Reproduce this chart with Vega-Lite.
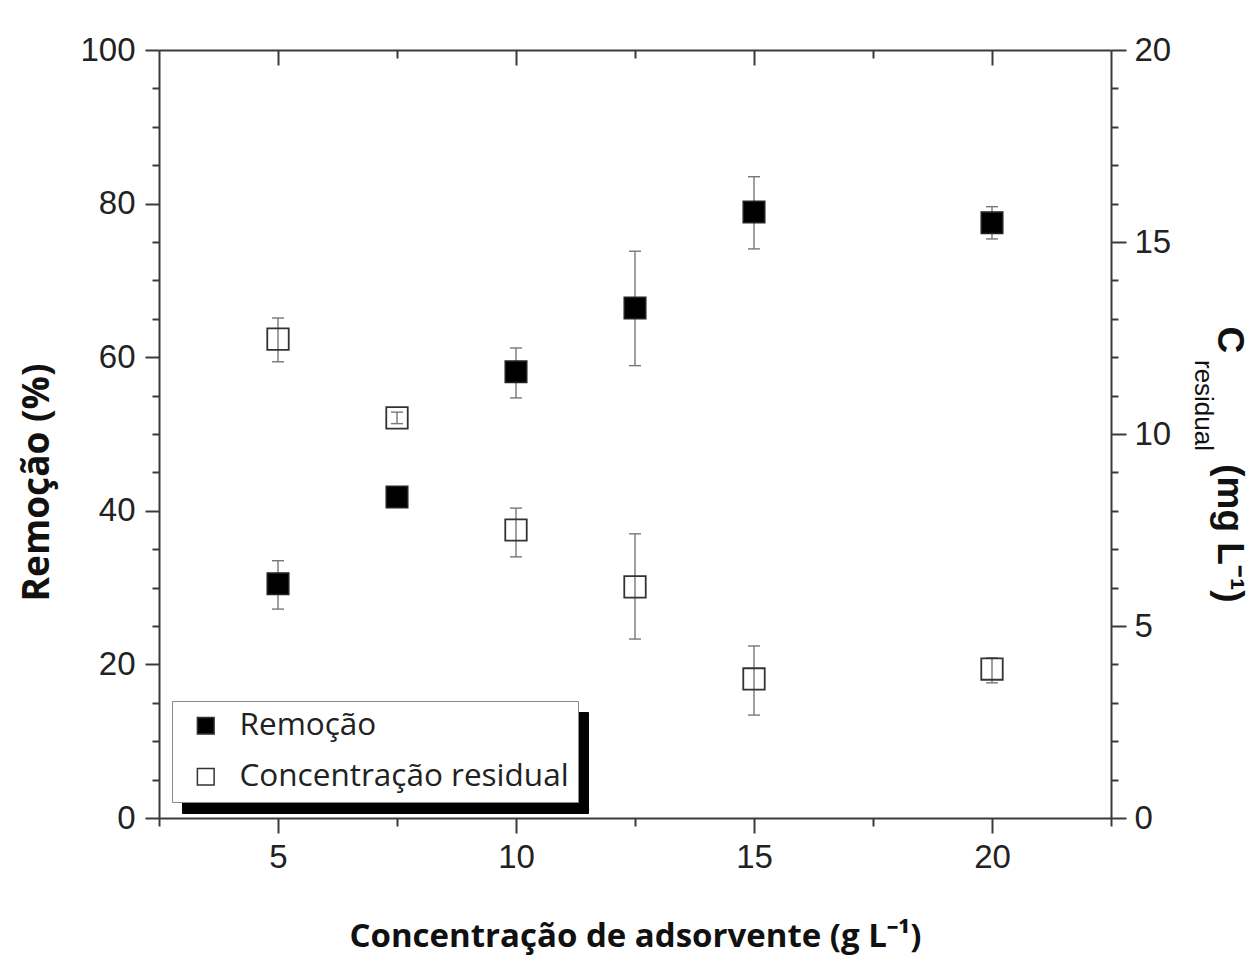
{
  "$schema": "https://vega.github.io/schema/vega-lite/v6.json",
  "width": 952,
  "height": 768,
  "autosize": {"type": "none"},
  "padding": {"left": 159, "top": 50, "right": 142, "bottom": 147},
  "background": "white",
  "config": {
    "view": {"stroke": null},
    "axis": {
      "domainColor": "#3a3a3a",
      "domainWidth": 2,
      "tickColor": "#3a3a3a",
      "tickWidth": 2,
      "labelFont": "Liberation Sans",
      "labelFontSize": 33,
      "labelColor": "#222",
      "labelOverlap": false,
      "grid": false,
      "titleColor": "#111"
    },
    "axisLeft": {
      "values": [0, 10, 20, 30, 40, 50, 60, 70, 80, 90, 100],
      "labelExpr": "datum.value % 20 === 0 ? datum.label : ''",
      "tickSize": {"condition": {"test": "datum.value % 20 === 0", "value": 14}, "value": 7},
      "labelPadding": 10,
      "titleFont": "Open Sans",
      "titleFontWeight": "bold",
      "titleFontSize": 37,
      "titleAngle": 270,
      "titleX": -122,
      "titleY": 432,
      "titleAlign": "center",
      "titleBaseline": "middle"
    },
    "axisRight": {
      "values": [0, 2.5, 5, 7.5, 10, 12.5, 15, 17.5, 20],
      "labelExpr": "datum.value % 5 === 0 ? datum.label : ''",
      "tickSize": {"condition": {"test": "datum.value % 5 === 0", "value": 15}, "value": 7},
      "labelPadding": 8,
      "titleFont": "Liberation Sans",
      "titleFontWeight": "bold",
      "titleFontSize": 37,
      "titleAngle": 90,
      "titleX": 117,
      "titleY": 414,
      "titleAlign": "center",
      "titleBaseline": "middle"
    }
  },
  "layer": [
    {
      "data": {
        "values": [
          {"x": 5, "v": 30.5, "lo": 27.2, "hi": 33.5, "serie": "Remoção"},
          {"x": 7.5, "v": 41.8, "lo": 41.1, "hi": 42.5, "serie": "Remoção"},
          {"x": 10, "v": 58.1, "lo": 54.7, "hi": 61.2, "serie": "Remoção"},
          {"x": 12.5, "v": 66.4, "lo": 58.9, "hi": 73.8, "serie": "Remoção"},
          {"x": 15, "v": 78.9, "lo": 74.1, "hi": 83.5, "serie": "Remoção"},
          {"x": 20, "v": 77.5, "lo": 75.4, "hi": 79.6, "serie": "Remoção"}
        ]
      },
      "encoding": {
        "x": {
          "field": "x",
          "type": "quantitative",
          "scale": {"domain": [2.5, 22.5], "nice": false, "zero": false},
          "axis": {
            "orient": "bottom",
            "values": [2.5, 5, 7.5, 10, 12.5, 15, 17.5, 20, 22.5],
            "labelExpr": "datum.value % 5 === 0 ? datum.label : ''",
            "tickSize": {"condition": {"test": "datum.value % 5 === 0", "value": 15}, "value": 8},
            "labelPadding": 8,
            "title": "Concentração de adsorvente (g L⁻¹)",
            "titleFont": "Open Sans",
            "titleFontWeight": "bold",
            "titleFontSize": 33,
            "titleX": 476,
            "titleY": 128,
            "titleAlign": "center",
            "titleBaseline": "alphabetic"
          }
        },
        "y": {
          "field": "v",
          "type": "quantitative",
          "scale": {"domain": [0, 100], "nice": false},
          "axis": {"orient": "left", "title": "Remoção (%)"}
        }
      },
      "layer": [
        {
          "mark": {"type": "rule", "color": "#777", "strokeWidth": 1.4},
          "encoding": {
            "y": {"field": "lo", "type": "quantitative", "scale": {"domain": [0, 100], "nice": false}, "axis": {"orient": "left", "title": "Remoção (%)"}},
            "y2": {"field": "hi"}
          }
        },
        {
          "mark": {"type": "tick", "orient": "horizontal", "color": "#777", "size": 12, "thickness": 1.4, "opacity": 1},
          "encoding": {
            "y": {"field": "lo", "type": "quantitative", "scale": {"domain": [0, 100], "nice": false}, "axis": {"orient": "left", "title": "Remoção (%)"}}
          }
        },
        {
          "mark": {"type": "tick", "orient": "horizontal", "color": "#777", "size": 12, "thickness": 1.4, "opacity": 1},
          "encoding": {
            "y": {"field": "hi", "type": "quantitative", "scale": {"domain": [0, 100], "nice": false}, "axis": {"orient": "left", "title": "Remoção (%)"}}
          }
        },
        {
          "mark": {"type": "point", "shape": "square", "filled": true, "size": 460, "stroke": "#222", "strokeWidth": 1.6, "opacity": 1},
          "encoding": {
            "fill": {
              "field": "serie",
              "type": "nominal",
              "scale": {"domain": ["Remoção", "Concentração residual"], "range": ["black", "transparent"]},
              "legend": {
                "title": null,
                "orient": "none",
                "legendX": 13,
                "legendY": 651,
                "fillColor": "white",
                "strokeColor": "#888",
                "padding": 9,
                "rowPadding": 18,
                "labelFont": "Open Sans",
                "labelFontSize": 31.5,
                "labelColor": "#222",
                "labelOffset": 18,
                "labelLimit": 800,
                "symbolOffset": 9,
                "symbolSize": 280,
                "symbolType": "square",
                "symbolStrokeColor": "#333",
                "symbolStrokeWidth": 1.5,
                "zindex": 2
              }
            },
            "shape": {
              "field": "serie",
              "type": "nominal",
              "scale": {"domain": ["Concentração residual", "Remoção"], "range": ["square", "square"]},
              "legend": {
                "title": null,
                "orient": "none",
                "legendX": 23,
                "legendY": 662,
                "fillColor": "black",
                "strokeColor": "black",
                "padding": 9,
                "rowPadding": 18,
                "labelFont": "Open Sans",
                "labelFontSize": 31.5,
                "labelColor": "black",
                "labelOffset": 18,
                "labelLimit": 800,
                "symbolOffset": 9,
                "symbolSize": 280,
                "symbolType": "square",
                "symbolFillColor": "black",
                "symbolStrokeColor": "black",
                "zindex": 1
              }
            }
          }
        }
      ]
    },
    {
      "data": {
        "values": [
          {"x": 5, "v": 12.47, "lo": 11.88, "hi": 13.02, "serie": "Concentração residual"},
          {"x": 7.5, "v": 10.42, "lo": 10.27, "hi": 10.57, "serie": "Concentração residual"},
          {"x": 10, "v": 7.5, "lo": 6.8, "hi": 8.07, "serie": "Concentração residual"},
          {"x": 12.5, "v": 6.02, "lo": 4.66, "hi": 7.4, "serie": "Concentração residual"},
          {"x": 15, "v": 3.62, "lo": 2.68, "hi": 4.48, "serie": "Concentração residual"},
          {"x": 20, "v": 3.88, "lo": 3.52, "hi": 4.17, "serie": "Concentração residual"}
        ]
      },
      "encoding": {
        "x": {
          "field": "x",
          "type": "quantitative",
          "scale": {"domain": [2.5, 22.5], "nice": false, "zero": false},
          "axis": {
            "orient": "top",
            "values": [5, 7.5, 10, 12.5, 15, 17.5, 20],
            "labels": false,
            "tickSize": {"condition": {"test": "datum.value % 5 === 0", "value": -15}, "value": -8},
            "title": "residual",
            "titleFont": "Liberation Sans",
            "titleFontWeight": "normal",
            "titleFontSize": 26,
            "titleAngle": 90,
            "titleX": 1043,
            "titleY": 355,
            "titleAlign": "center",
            "titleBaseline": "middle"
          }
        },
        "y": {
          "field": "v",
          "type": "quantitative",
          "scale": {"domain": [0, 20], "nice": false},
          "axis": {"orient": "right", "title": "C\u2003\u2003\u2003(mg L⁻¹)"}
        }
      },
      "layer": [
        {
          "mark": {"type": "rule", "color": "#777", "strokeWidth": 1.4},
          "encoding": {
            "y": {"field": "lo", "type": "quantitative", "scale": {"domain": [0, 20], "nice": false}, "axis": {"orient": "right", "title": "C\u2003\u2003\u2003(mg L⁻¹)"}},
            "y2": {"field": "hi"}
          }
        },
        {
          "mark": {"type": "tick", "orient": "horizontal", "color": "#777", "size": 12, "thickness": 1.4, "opacity": 1},
          "encoding": {
            "y": {"field": "lo", "type": "quantitative", "scale": {"domain": [0, 20], "nice": false}, "axis": {"orient": "right", "title": "C\u2003\u2003\u2003(mg L⁻¹)"}}
          }
        },
        {
          "mark": {"type": "tick", "orient": "horizontal", "color": "#777", "size": 12, "thickness": 1.4, "opacity": 1},
          "encoding": {
            "y": {"field": "hi", "type": "quantitative", "scale": {"domain": [0, 20], "nice": false}, "axis": {"orient": "right", "title": "C\u2003\u2003\u2003(mg L⁻¹)"}}
          }
        },
        {
          "mark": {"type": "point", "shape": "square", "filled": true, "size": 460, "stroke": "#333", "strokeWidth": 1.8, "opacity": 1},
          "encoding": {
            "fill": {"field": "serie", "type": "nominal"},
            "shape": {"field": "serie", "type": "nominal"}
          }
        }
      ]
    }
  ],
  "resolve": {"scale": {"x": "independent", "y": "independent"}}
}
